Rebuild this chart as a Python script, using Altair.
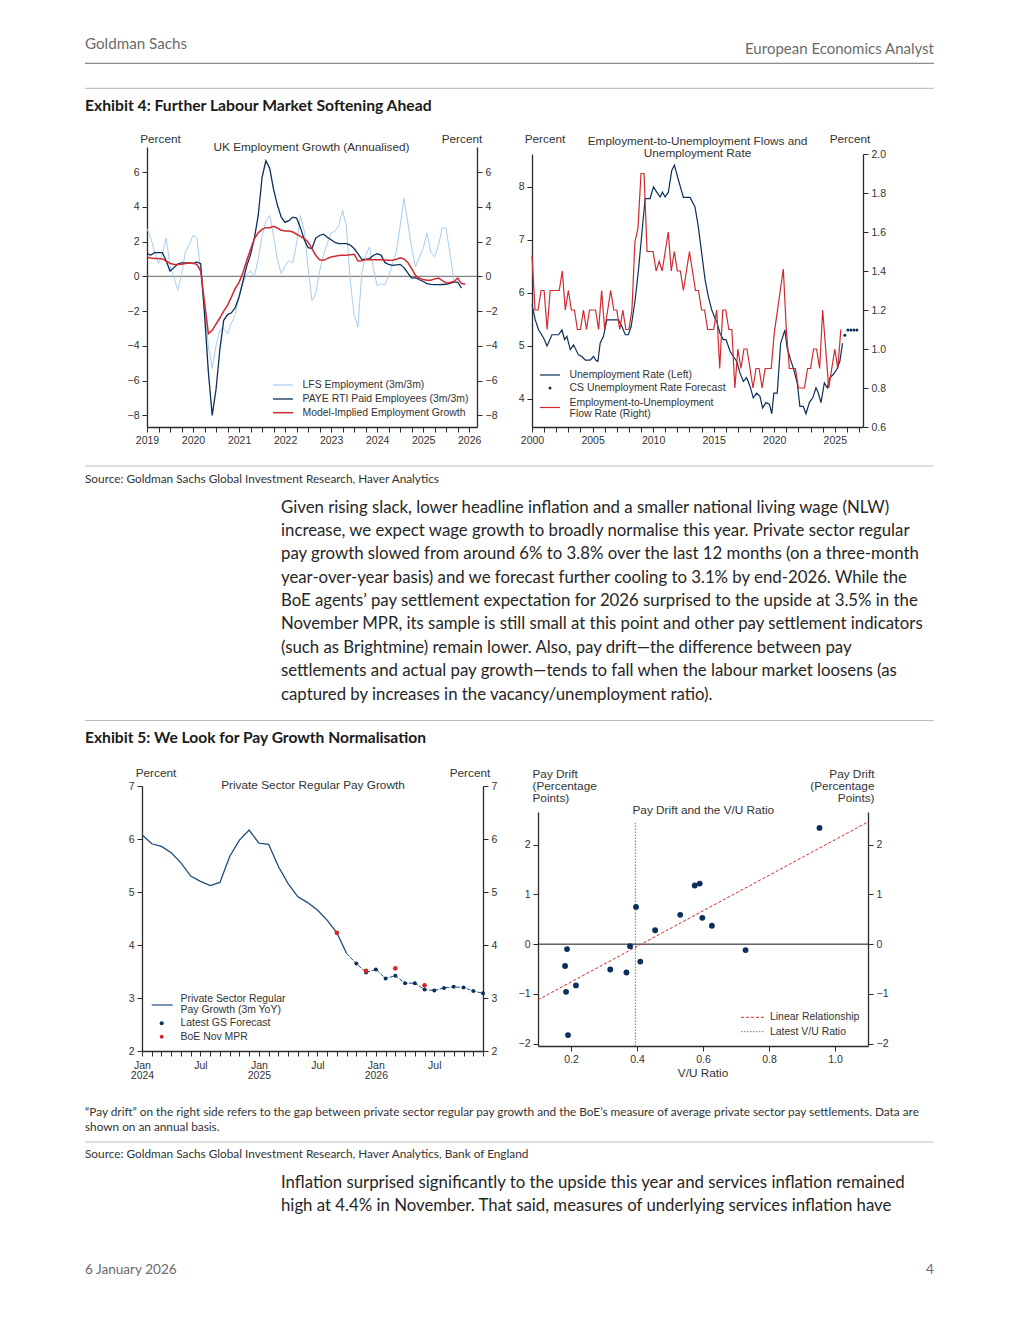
import altair as alt
import numpy as np
import pandas as pd

# ===================== DATA =====================
# Exhibit 4 (left): UK employment growth, % annualised, monthly from Jan 2019
emp_start = 2019
lfs_emp = [2.75, 2.2, 1.4, 0.73, 1.3, 2.2, 0.6, -0.04, -0.8, 0.1, 1.4, 1.8,
           2.36, 2.2, 0.3, -2.0, -4.0, -5.3, -4.0, -3.1, -3.0, -3.3, -2.7, -2.2,
           -1.19, -0.4, 0.1, 0.3, 0.0, 1.0, 2.3, 3.2, 3.5, 2.3, 1.0, 0.15,
           0.6, 0.9, 0.75, 1.9, 3.5, 2.6, 0.5, -1.4, -1.0, 0.3, 1.2, 1.9,
           2.5, 2.6, 2.9, 3.8, 2.84, -0.3, -2.2, -2.92, 0.2, 1.2, 1.69, 0.5,
           -0.55, -0.42, -0.5, 0.0, 0.7, 1.4, 2.9, 4.5, 3.1, 1.6, 0.54, 1.1,
           1.6, 2.46, 1.4, 1.11, 1.8, 2.8, 2.75, 1.3, -0.2]
paye_emp = [1.3, 1.22, 1.36, 1.36, 1.36, 0.9, 0.3, 0.5, 0.7, 0.77, 0.77, 0.77,
            0.73, 0.83, 0.73, -2.2, -5.5, -8.0, -6.5, -4.2, -2.53, -2.2, -2.1, -1.8,
            -1.19, -0.3, 0.6, 1.25, 2.2, 3.5, 5.7, 6.65, 6.2, 5.0, 4.1, 3.4,
            3.1, 3.2, 3.4, 3.35, 2.8, 2.1, 1.65, 1.6, 2.2, 2.35, 2.42, 2.25,
            2.1, 1.95, 1.88, 1.88, 1.88, 1.8, 1.6, 1.3, 0.98, 0.98, 1.02, 1.2,
            1.3, 1.22, 0.8, 0.68, 0.63, 0.66, 0.69, 0.5, 0.2, -0.1, -0.08, -0.2,
            -0.3, -0.42, -0.46, -0.48, -0.48, -0.47, -0.46, -0.4, -0.33, -0.33, -0.68]
model_emp = [1.1, 1.05, 1.02, 1.02, 1.0, 0.88, 0.75, 0.68, 0.68, 0.7, 0.74, 0.77,
             0.75, 0.69, 0.3, -1.5, -3.3, -3.1, -2.75, -2.4, -2.0, -1.67, -1.2, -0.7,
             -0.35, 0.2, 0.9, 1.55, 2.17, 2.5, 2.7, 2.8, 2.8, 2.88, 2.78, 2.65,
             2.61, 2.61, 2.55, 2.42, 2.3, 2.17, 1.98, 1.6, 1.21, 0.95, 0.92, 1.02,
             1.11, 1.15, 1.2, 1.21, 1.21, 1.24, 1.27, 0.88, 0.9, 0.96, 0.96, 0.96,
             0.96, 0.95, 0.94, 0.92, 0.92, 0.98, 1.07, 1.0, 0.8, 0.44, 0.05, -0.1,
             -0.19, -0.22, -0.23, -0.15, -0.1, -0.25, -0.38, -0.36, -0.3, -0.1, -0.42, -0.46]

# Exhibit 4 (right): unemployment rate (left axis) and E-to-U flow rate (right axis)
ur_year = [2000.0, 2000.27, 2000.55, 2000.96, 2001.24, 2001.65, 2002.2, 2002.47, 2002.69, 2002.88,
           2003.16, 2003.43, 2003.84, 2004.12, 2004.4, 2004.8, 2005.08, 2005.28, 2005.44, 2005.63,
           2005.9, 2006.18, 2007.14, 2007.42, 2007.7, 2007.96, 2008.19, 2008.52, 2008.79, 2009.07,
           2009.34, 2009.75, 2010.03, 2010.3, 2010.58, 2010.77, 2010.99, 2011.26, 2011.54, 2011.76,
           2012.09, 2012.5, 2013.05, 2013.46, 2013.73, 2014.01, 2014.29, 2014.56, 2014.84, 2015.11,
           2015.25, 2015.52, 2015.8, 2016.02, 2016.35, 2016.62, 2016.9, 2017.17, 2017.45, 2017.72,
           2018.0, 2018.27, 2018.55, 2018.82, 2019.04, 2019.32, 2019.6, 2019.8, 2019.97, 2020.25,
           2020.53, 2020.88, 2021.07, 2021.35, 2021.62, 2021.9, 2022.12, 2022.4, 2022.62, 2022.9,
           2023.18, 2023.45, 2023.64, 2023.86, 2024.14, 2024.38, 2024.6, 2024.87, 2025.15, 2025.42,
           2025.64]
ur_rate = [5.78, 5.49, 5.3, 5.15, 5.0, 5.21, 5.21, 5.3, 5.12, 5.18,
           4.93, 5.02, 4.83, 4.8, 4.73, 4.73, 4.8, 4.73, 4.71, 5.05,
           5.18, 5.49, 5.49, 5.37, 5.21, 5.21, 5.37, 5.87, 6.43, 7.12,
           7.78, 7.78, 8.0, 7.9, 7.81, 7.9, 7.81, 7.9, 8.31, 8.41,
           8.13, 7.8, 7.8, 7.62, 7.25, 6.75, 6.25, 5.93, 5.68, 5.52,
           5.46, 5.24, 5.12, 5.12, 4.9, 4.8, 4.71, 4.49, 4.33, 4.4,
           4.24, 4.02, 4.11, 4.05, 3.83, 3.93, 3.9, 3.72, 4.11, 4.11,
           5.05, 5.3, 4.96, 4.74, 4.55, 4.3, 3.86, 3.86, 3.72, 3.93,
           4.02, 4.21, 4.11, 3.93, 4.3, 4.21, 4.4, 4.46, 4.55, 4.71,
           5.05]
ur_fc_year = [2025.83, 2026.08, 2026.33, 2026.58, 2026.83]
ur_fc_rate = [5.2, 5.3, 5.3, 5.3, 5.3]
flow_start = 2000  # quarterly
flow_rate = [1.48, 1.2, 1.2, 1.3, 1.3, 1.1, 1.3, 1.3, 1.3, 1.3, 1.4, 1.2,
             1.3, 1.2, 1.2, 1.1, 1.1, 1.2, 1.1, 1.2, 1.2, 1.2, 1.1, 1.3,
             1.1, 1.2, 1.3, 1.2, 1.2, 1.1, 1.2, 1.1, 1.1, 1.2, 1.55, 1.62,
             1.9, 1.9, 1.5, 1.5, 1.5, 1.4, 1.45, 1.4, 1.5, 1.6, 1.4, 1.5,
             1.4, 1.4, 1.3, 1.4, 1.5, 1.4, 1.3, 1.3, 1.2, 1.2, 1.1, 1.1,
             1.1, 1.2, 0.9, 1.2, 1.2, 1.1, 1.1, 0.8, 1.0, 0.9, 1.0, 1.0,
             0.9, 0.8, 0.9, 0.9, 0.8, 0.9, 0.9, 0.9, 1.08, 1.19, 1.3, 1.41,
             1.1, 0.9, 0.9, 0.9, 0.8, 0.8, 0.8, 0.9, 0.9, 1.0, 1.0, 0.9,
             1.2, 1.0, 0.8, 0.9, 1.0, 0.9, 1.1]

# Exhibit 5 (left): private sector regular pay growth, monthly from Jan 2024
pay_actual = [6.08, 5.91, 5.86, 5.74, 5.55, 5.3, 5.2, 5.12, 5.18, 5.67, 5.98, 6.17,
              5.92, 5.9, 5.48, 5.16, 4.91, 4.8, 4.66, 4.47, 4.23, 3.84]
pay_fc_month = list(range(21, 36))
pay_fc = [3.84, 3.65, 3.48, 3.54, 3.37, 3.42, 3.28, 3.28, 3.16, 3.14, 3.19, 3.21, 3.2, 3.13, 3.09]
boe_month = [20, 23, 26, 29]
boe_mpr = [4.23, 3.51, 3.56, 3.24]

# Exhibit 5 (right): pay drift vs V/U ratio
vu_ratio = [0.188, 0.182, 0.185, 0.215, 0.191, 0.319, 0.368, 0.379, 0.397,
            0.41, 0.455, 0.531, 0.575, 0.59, 0.598, 0.627, 0.729, 0.953]
pay_drift = [-0.10, -0.44, -0.96, -0.83, -1.83, -0.51, -0.57, -0.04, 0.75,
             -0.35, 0.28, 0.59, 1.18, 1.22, 0.53, 0.37, -0.12, 2.34]
fit_vu = [0.1, 1.1]
fit_drift = [-1.12, 2.46]
latest_vu = 0.395

# Page text
para1 = ["Given rising slack, lower headline inflation and a smaller national living wage (NLW)",
         "increase, we expect wage growth to broadly normalise this year. Private sector regular",
         "pay growth slowed from around 6% to 3.8% over the last 12 months (on a three-month",
         "year-over-year basis) and we forecast further cooling to 3.1% by end-2026. While the",
         "BoE agents\u2019 pay settlement expectation for 2026 surprised to the upside at 3.5% in the",
         "November MPR, its sample is still small at this point and other pay settlement indicators",
         "(such as Brightmine) remain lower. Also, pay drift\u2014the difference between pay",
         "settlements and actual pay growth\u2014tends to fall when the labour market loosens (as",
         "captured by increases in the vacancy/unemployment ratio)."]
para2 = ["Inflation surprised significantly to the upside this year and services inflation remained",
         "high at 4.4% in November. That said, measures of underlying services inflation have"]
note5 = ["\u201cPay drift\u201d on the right side refers to the gap between private sector regular pay growth and the BoE\u2019s measure of average private sector pay settlements. Data are",
         "shown on an annual basis."]

# ===================== STYLE / LAYOUT =====================
W, H = 1004, 1304          # whole page drawing area (page minus 8px margin)
M = 8                      # page margin: page coordinate -> local coordinate
FONT = "Liberation Sans"
PFONT = "Lato"
NAVY = "#0c2f5c"
LBLUE = "#a7cdee"
RED = "#d2292f"
PAYBLUE = "#1d4b7c"
AXC = "#2b2b2b"
TXT = "#333333"
BODY = "#262626"
GREY = "#6b6b6b"
TS = 11.8   # chart titles / unit labels
LS = 10.45  # legend text
KS = 10.5   # tick labels
PS = 16.8   # body paragraph


def sc(dom, rng):
    return alt.Scale(domain=dom, range=rng, nice=False, zero=False)


def axis(orient, values, offset, fmt=None, expr=None, **kw):
    d = dict(orient=orient, values=values, offset=offset, grid=False, title=None, domainColor=AXC,
             domainWidth=1.3, tickColor=AXC, tickWidth=1, tickSize=5, labelFont=FONT, labelFontSize=KS,
             labelColor=TXT, labelPadding=3, labelFlush=False, labelOverlap=False)
    if fmt:
        d["format"] = fmt
    if expr:
        d["labelExpr"] = expr
    d.update(kw)
    return alt.Axis(**d)


def ann(rows, align="left", font=FONT, weight="normal"):
    df = pd.DataFrame(rows, columns=["text", "x", "y", "size", "color"])
    df["x"] = df["x"] - M
    df["y"] = df["y"] - M
    return alt.Chart(df).mark_text(align=align, baseline="middle", font=font, fontWeight=weight).encode(
        x=alt.X("x:Q", scale=None), y=alt.Y("y:Q", scale=None), text="text:N",
        size=alt.Size("size:Q", scale=None), color=alt.Color("color:N", scale=None))


def seg(rows, dash=None):
    df = pd.DataFrame(rows, columns=["x1", "x2", "y", "color", "w"])
    df["x1"] = df["x1"] - M
    df["x2"] = df["x2"] - M
    df["y"] = df["y"] - M
    kw = {}
    if dash:
        kw["strokeDash"] = dash
    return alt.Chart(df).mark_rule(**kw).encode(
        x=alt.X("x1:Q", scale=None), x2="x2:Q", y=alt.Y("y:Q", scale=None),
        color=alt.Color("color:N", scale=None), strokeWidth=alt.StrokeWidth("w:Q", scale=None))


def dots(rows, size):
    df = pd.DataFrame(rows, columns=["x", "y", "color"])
    df["x"] = df["x"] - M
    df["y"] = df["y"] - M
    return alt.Chart(df).mark_point(filled=True, size=size, opacity=1).encode(
        x=alt.X("x:Q", scale=None), y=alt.Y("y:Q", scale=None), color=alt.Color("color:N", scale=None))


def box(x0, x1, y_bottom, y_top):
    """plot rectangle in page pixels -> local ranges"""
    return [x0 - M, x1 - M], [y_bottom - M, y_top - M]


layers = []

# ===================== EXHIBIT 4 LEFT =====================
(rx, ry) = box(147, 477, 427, 147)
tl_xs = sc([2019, 2026.17], rx)
tl_ys = sc([-8.67, 7.44], ry)
tl_yv = [-8, -6, -4, -2, 0, 2, 4, 6]
tl_xax = axis("bottom", [2019 + k / 4 for k in range(29)], ry[0] - H,
              expr="abs(datum.value - round(datum.value)) < 0.01 ? '' + round(datum.value) : ''")


def emp(vals):
    return pd.DataFrame({"t": emp_start + np.arange(len(vals)) / 12, "v": vals})


layers += [
    alt.Chart(pd.DataFrame({"t": [2019], "t2": [2026.17], "v": [0]})).mark_rule(
        color="#666666", strokeWidth=1).encode(
        x=alt.X("t:Q", scale=tl_xs, axis=None), x2="t2:Q", y=alt.Y("v:Q", scale=tl_ys, axis=None)),
    alt.Chart(emp(lfs_emp)).mark_line(color=LBLUE, strokeWidth=1).encode(
        x=alt.X("t:Q", scale=tl_xs, axis=tl_xax),
        y=alt.Y("v:Q", scale=tl_ys, axis=axis("left", tl_yv, -rx[0]))),
    alt.Chart(emp(paye_emp)).mark_line(color=NAVY, strokeWidth=1.3).encode(
        x=alt.X("t:Q", scale=tl_xs, axis=None),
        y=alt.Y("v:Q", scale=tl_ys, axis=axis("right", tl_yv, rx[1] - W))),
    alt.Chart(emp(model_emp)).mark_line(color=RED, strokeWidth=1.5).encode(
        x=alt.X("t:Q", scale=tl_xs, axis=None), y=alt.Y("v:Q", scale=tl_ys, axis=None)),
    ann([("UK Employment Growth (Annualised)", 311.5, 147, TS, TXT),
         ("Percent", 160.5, 138.5, TS, TXT), ("Percent", 462, 138.5, TS, TXT)], align="center"),
    seg([(273, 293, 385, LBLUE, 1.2), (273, 293, 399, NAVY, 1.3), (273, 293, 412.7, RED, 1.5)]),
    ann([("LFS Employment (3m/3m)", 302.5, 385, LS, TXT),
         ("PAYE RTI Paid Employees (3m/3m)", 302.5, 399, LS, TXT),
         ("Model-Implied Employment Growth", 302.5, 412.7, LS, TXT)]),
]

# ===================== EXHIBIT 4 RIGHT =====================
(rx, ry) = box(532, 863, 427, 154)
tr_xs = sc([2000, 2027.33], rx)
tr_ls = sc([3.47, 8.62], ry)
tr_rs = sc([0.6, 2.0], ry)
tr_xax = axis("bottom", list(range(2000, 2028)), ry[0] - H,
              expr="datum.value % 5 == 0 ? '' + datum.value : ''")
layers += [
    alt.Chart(pd.DataFrame({"t": ur_year, "v": ur_rate})).mark_line(color=NAVY, strokeWidth=1.2).encode(
        x=alt.X("t:Q", scale=tr_xs, axis=tr_xax),
        y=alt.Y("v:Q", scale=tr_ls, axis=axis("left", [4, 5, 6, 7, 8], -rx[0]))),
    alt.Chart(pd.DataFrame({"t": ur_fc_year, "v": ur_fc_rate})).mark_point(
        filled=True, size=9, color=NAVY, opacity=1).encode(
        x=alt.X("t:Q", scale=tr_xs, axis=None), y=alt.Y("v:Q", scale=tr_ls, axis=None)),
    alt.Chart(pd.DataFrame({"t": flow_start + np.arange(len(flow_rate)) / 4, "v": flow_rate})).mark_line(
        color=RED, strokeWidth=1.2).encode(
        x=alt.X("t:Q", scale=tr_xs, axis=None),
        y=alt.Y("v:Q", scale=tr_rs, axis=axis("right", [0.6, 0.8, 1.0, 1.2, 1.4, 1.6, 1.8, 2.0],
                                               rx[1] - W, fmt=".1f"))),
    ann([("Employment-to-Unemployment Flows and", 697.5, 140.5, TS, TXT),
         ("Unemployment Rate", 697.5, 152.7, TS, TXT),
         ("Percent", 545, 139, TS, TXT), ("Percent", 850, 139, TS, TXT)], align="center"),
    seg([(540, 560, 375, NAVY, 1.2), (540, 560, 407.5, RED, 1.2)]),
    dots([(550, 388, NAVY)], 9),
    ann([("Unemployment Rate (Left)", 569.5, 375, LS, TXT),
         ("CS Unemployment Rate Forecast", 569.5, 388, LS, TXT),
         ("Employment-to-Unemployment", 569.5, 402.5, LS, TXT),
         ("Flow Rate (Right)", 569.5, 413.5, LS, TXT)]),
]

# ===================== EXHIBIT 5 LEFT =====================
(rx, ry) = box(142, 483, 1051, 786)
bl_xs = sc([0, 35], rx)
bl_ys = sc([2, 7], ry)
bl_yv = [2, 3, 4, 5, 6, 7]
bl_xax = axis("bottom", list(range(36)), ry[0] - H,
              expr="datum.value % 12 == 0 ? ['Jan', '' + (2024 + datum.value / 12)] : (datum.value % 12 == 6 ? 'Jul' : '')",
              labelLineHeight=10.5, labelPadding=4)
fc_df = pd.DataFrame({"m": pay_fc_month, "v": pay_fc})
layers += [
    alt.Chart(pd.DataFrame({"m": np.arange(len(pay_actual)), "v": pay_actual})).mark_line(
        color=PAYBLUE, strokeWidth=1.3).encode(
        x=alt.X("m:Q", scale=bl_xs, axis=bl_xax),
        y=alt.Y("v:Q", scale=bl_ys, axis=axis("left", bl_yv, -rx[0]))),
    alt.Chart(fc_df).mark_line(color=PAYBLUE, strokeWidth=1, strokeDash=[4, 1.5]).encode(
        x=alt.X("m:Q", scale=bl_xs, axis=None),
        y=alt.Y("v:Q", scale=bl_ys, axis=axis("right", bl_yv, rx[1] - W))),
    alt.Chart(fc_df.iloc[1:]).mark_point(filled=True, size=16, color=NAVY, opacity=1).encode(
        x=alt.X("m:Q", scale=bl_xs, axis=None), y=alt.Y("v:Q", scale=bl_ys, axis=None)),
    alt.Chart(pd.DataFrame({"m": boe_month, "v": boe_mpr})).mark_point(
        filled=True, size=22, color=RED, opacity=1).encode(
        x=alt.X("m:Q", scale=bl_xs, axis=None), y=alt.Y("v:Q", scale=bl_ys, axis=None)),
    ann([("Private Sector Regular Pay Growth", 313, 785, TS, TXT),
         ("Percent", 156, 772.7, TS, TXT), ("Percent", 470, 772.7, TS, TXT)], align="center"),
    seg([(151.7, 172.7, 1005, PAYBLUE, 1.2)]),
    dots([(161.7, 1023.3, NAVY), (161.7, 1036.7, RED)], 16),
    ann([("Private Sector Regular", 180.5, 999.3, LS, TXT),
         ("Pay Growth (3m YoY)", 180.5, 1009.7, LS, TXT),
         ("Latest GS Forecast", 180.5, 1023.3, LS, TXT),
         ("BoE Nov MPR", 180.5, 1036.7, LS, TXT)]),
]

# ===================== EXHIBIT 5 RIGHT =====================
(rx, ry) = box(538, 868, 1046, 812)
br_xs = sc([0.1, 1.1], rx)
br_ys = sc([-2.05, 2.66], ry)
br_yv = [-2, -1, 0, 1, 2]
layers += [
    alt.Chart(pd.DataFrame({"x": [0.1], "x2": [1.1], "y": [0]})).mark_rule(
        color="#111111", strokeWidth=1).encode(
        x=alt.X("x:Q", scale=br_xs, axis=None), x2="x2:Q", y=alt.Y("y:Q", scale=br_ys, axis=None)),
    alt.Chart(pd.DataFrame({"x": [latest_vu], "y": [-2.05], "y2": [2.44]})).mark_rule(
        color="#777777", strokeWidth=1, strokeDash=[1.5, 1.5]).encode(
        x=alt.X("x:Q", scale=br_xs, axis=None), y=alt.Y("y:Q", scale=br_ys, axis=None), y2="y2:Q"),
    alt.Chart(pd.DataFrame({"x": fit_vu, "y": fit_drift})).mark_line(
        color=RED, strokeWidth=1, strokeDash=[3, 2]).encode(
        x=alt.X("x:Q", scale=br_xs, axis=None),
        y=alt.Y("y:Q", scale=br_ys, axis=axis("right", br_yv, rx[1] - W))),
    alt.Chart(pd.DataFrame({"x": vu_ratio, "y": pay_drift})).mark_point(
        filled=True, size=34, color=NAVY, opacity=1).encode(
        x=alt.X("x:Q", scale=br_xs, axis=axis("bottom", [0.2, 0.4, 0.6, 0.8, 1.0], ry[0] - H, fmt=".1f")),
        y=alt.Y("y:Q", scale=br_ys, axis=axis("left", br_yv, -rx[0]))),
    ann([("Pay Drift", 532.5, 774, TS, TXT), ("(Percentage", 532.5, 785.7, TS, TXT),
         ("Points)", 532.5, 797.5, TS, TXT)]),
    ann([("Pay Drift", 874.5, 774, TS, TXT), ("(Percentage", 874.5, 785.7, TS, TXT),
         ("Points)", 874.5, 797.5, TS, TXT)], align="right"),
    ann([("Pay Drift and the V/U Ratio", 703.3, 810, TS, TXT),
         ("V/U Ratio", 703, 1073.3, TS, TXT)], align="center"),
    seg([(741, 765, 1017.3, RED, 1)], dash=[3, 2]),
    seg([(741, 765, 1031.7, "#777777", 1)], dash=[1.5, 1.5]),
    ann([("Linear Relationship", 770, 1017.3, LS, TXT), ("Latest V/U Ratio", 770, 1031.7, LS, TXT)]),
]

# ===================== PAGE TEXT =====================
layers += [
    ann([("Goldman Sachs", 85, 44, 15.2, GREY), ("6 January 2026", 85, 1270, 13.6, GREY)], font=PFONT),
    ann([("European Economics Analyst", 934, 48.5, 15, GREY), ("4", 934, 1270, 13.6, GREY)],
        align="right", font=PFONT),
    seg([(85, 934, 63.3, "#8c8c8c", 1.2), (85, 934, 88.3, "#b5b5b5", 1),
         (85, 934, 466, "#bdbdbd", 1), (85, 934, 720.5, "#bdbdbd", 1), (85, 934, 1142, "#bdbdbd", 1)]),
    ann([("Exhibit 4: Further Labour Market Softening Ahead", 85, 105.5, 15.7, "#1a1a1a"),
         ("Exhibit 5: We Look for Pay Growth Normalisation", 85, 738, 15.6, "#1a1a1a")],
        font=PFONT, weight="bold"),
    ann([("Source: Goldman Sachs Global Investment Research, Haver Analytics", 85, 479, 11.8, TXT),
         ("Source: Goldman Sachs Global Investment Research, Haver Analytics, Bank of England", 85, 1154, 11.8, TXT)]
        + [(t, 85, 1112 + i * 15, 11.8, TXT) for i, t in enumerate(note5)], font=PFONT),
    ann([(t, 281, 507.5 + i * 23.375, PS, BODY) for i, t in enumerate(para1)]
        + [(t, 281, 1182.5 + i * 23.375, PS, BODY) for i, t in enumerate(para2)], font=PFONT),
]

chart = alt.layer(*layers).resolve_scale(x="independent", y="independent").properties(
    width=W, height=H, padding=0, background="white").configure_view(strokeWidth=0)

chart.save("out.html", embed_options={"renderer": "svg", "actions": False})
